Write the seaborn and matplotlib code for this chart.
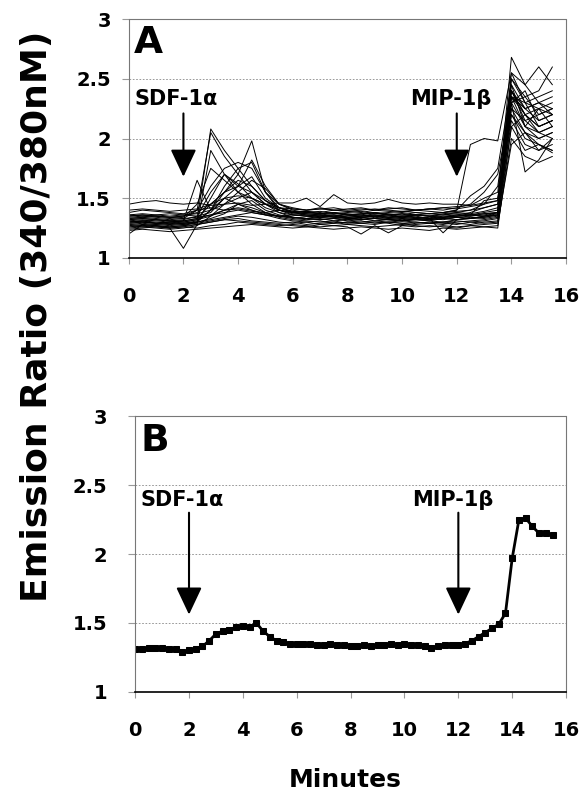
import numpy as np
import pandas as pd
import matplotlib
matplotlib.use("Agg")
import matplotlib.pyplot as plt
import seaborn as sns

# time axes (minutes)
t_cells = np.arange(0, 16, 0.5)      # single-cell traces, 0 .. 15.5
t_mean = np.arange(0, 15.75, 0.25)   # averaged trace, 0 .. 15.5

# panel A: individual cell traces (emission ratio 340/380)
cell_01 = [1.45,1.47,1.48,1.46,1.45,1.46,1.44,1.45,1.46,1.44,1.45,1.46,1.46,1.50,1.43,1.53,1.46,1.45,1.46,1.49,1.46,1.45,1.46,1.45,1.45,1.44,1.46,1.48,2.68,2.45,2.30,2.25]
cell_02 = [1.38,1.40,1.39,1.38,1.37,1.40,1.42,1.40,1.41,1.39,1.38,1.40,1.38,1.39,1.38,1.40,1.39,1.38,1.40,1.39,1.38,1.40,1.39,1.38,1.40,1.95,2.00,1.98,2.55,2.30,2.25,2.20]
cell_03 = [1.30,1.31,1.29,1.30,1.31,1.65,1.40,1.50,1.45,1.40,1.36,1.35,1.34,1.33,1.35,1.34,1.33,1.32,1.34,1.33,1.32,1.33,1.34,1.33,1.32,1.34,1.33,1.35,2.40,2.20,2.10,2.15]
cell_04 = [1.20,1.28,1.27,1.25,1.08,1.28,1.30,1.32,1.33,1.31,1.30,1.29,1.30,1.28,1.29,1.30,1.28,1.29,1.30,1.29,1.27,1.29,1.30,1.29,1.28,1.30,1.29,1.30,2.20,2.05,1.90,1.95]
cell_05 = [1.33,1.34,1.33,1.32,1.33,1.40,2.05,1.85,1.70,1.55,1.45,1.40,1.38,1.37,1.36,1.37,1.36,1.35,1.37,1.36,1.35,1.36,1.35,1.36,1.37,1.36,1.38,1.40,2.45,2.25,2.15,2.20]
cell_06 = [1.30,1.31,1.30,1.29,1.30,1.32,2.08,1.90,1.75,1.60,1.48,1.42,1.38,1.36,1.35,1.36,1.34,1.35,1.36,1.34,1.35,1.34,1.33,1.35,1.36,1.35,1.37,1.38,2.50,2.35,2.20,2.25]
cell_07 = [1.28,1.29,1.28,1.27,1.28,1.30,1.40,1.55,1.70,1.98,1.55,1.42,1.38,1.37,1.36,1.35,1.36,1.34,1.35,1.36,1.34,1.35,1.33,1.34,1.35,1.36,1.35,1.37,2.35,2.10,2.05,2.10]
cell_08 = [1.35,1.36,1.35,1.34,1.35,1.40,1.60,1.75,1.80,1.75,1.55,1.45,1.42,1.40,1.41,1.40,1.39,1.40,1.41,1.40,1.39,1.40,1.41,1.40,1.42,1.45,1.55,1.70,2.30,2.35,2.40,2.60]
cell_09 = [1.32,1.33,1.32,1.31,1.32,1.35,1.55,1.70,1.60,1.82,1.60,1.45,1.40,1.38,1.37,1.38,1.36,1.37,1.38,1.36,1.37,1.36,1.35,1.37,1.38,1.37,1.39,1.42,2.55,2.45,2.60,2.45]
cell_10 = [1.27,1.28,1.27,1.26,1.27,1.30,1.50,1.70,1.62,1.50,1.42,1.38,1.36,1.35,1.34,1.35,1.33,1.34,1.35,1.33,1.34,1.33,1.32,1.34,1.35,1.36,1.48,1.50,2.20,2.00,1.95,1.90]
cell_11 = [1.31,1.32,1.31,1.30,1.31,1.33,1.45,1.55,1.65,1.60,1.48,1.40,1.37,1.36,1.35,1.36,1.34,1.35,1.36,1.35,1.34,1.36,1.35,1.34,1.36,1.38,1.42,1.45,2.40,2.15,2.20,2.25]
cell_12 = [1.25,1.26,1.25,1.24,1.25,1.27,1.35,1.45,1.50,1.55,1.45,1.38,1.34,1.33,1.32,1.33,1.31,1.32,1.33,1.32,1.31,1.32,1.31,1.30,1.32,1.33,1.34,1.36,2.25,2.05,2.00,2.05]
cell_13 = [1.23,1.24,1.23,1.22,1.23,1.24,1.25,1.26,1.27,1.28,1.27,1.26,1.25,1.26,1.25,1.24,1.25,1.26,1.25,1.24,1.25,1.24,1.23,1.25,1.24,1.25,1.26,1.27,2.00,1.85,1.80,1.85]
cell_14 = [1.29,1.30,1.29,1.28,1.29,1.30,1.32,1.34,1.36,1.38,1.36,1.33,1.31,1.30,1.31,1.29,1.30,1.31,1.29,1.30,1.31,1.30,1.29,1.30,1.31,1.30,1.31,1.33,2.30,2.10,2.00,2.05]
cell_15 = [1.34,1.35,1.34,1.33,1.34,1.45,1.75,1.65,1.55,1.50,1.45,1.40,1.38,1.39,1.37,1.38,1.37,1.36,1.38,1.37,1.36,1.38,1.37,1.36,1.38,1.40,1.45,1.60,2.40,2.20,2.25,2.30]
cell_16 = [1.36,1.37,1.36,1.35,1.36,1.37,1.40,1.45,1.55,1.65,1.58,1.45,1.41,1.40,1.42,1.40,1.41,1.42,1.40,1.41,1.42,1.40,1.41,1.42,1.41,1.43,1.45,1.48,2.35,2.30,2.10,2.15]
cell_17 = [1.27,1.26,1.27,1.26,1.27,1.28,1.30,1.32,1.31,1.30,1.29,1.28,1.27,1.26,1.28,1.27,1.26,1.20,1.27,1.21,1.27,1.26,1.27,1.26,1.25,1.27,1.26,1.25,2.10,1.90,1.95,1.88]
cell_18 = [1.30,1.31,1.32,1.31,1.30,1.32,1.35,1.40,1.45,1.42,1.38,1.35,1.33,1.32,1.33,1.31,1.32,1.33,1.31,1.32,1.31,1.32,1.33,1.21,1.32,1.33,1.35,1.38,2.30,2.40,2.15,2.20]
cell_19 = [1.32,1.33,1.32,1.31,1.31,1.33,1.36,1.40,1.42,1.40,1.37,1.35,1.34,1.33,1.34,1.33,1.32,1.34,1.33,1.32,1.33,1.32,1.31,1.33,1.34,1.33,1.35,1.36,2.15,1.95,1.90,2.00]
cell_20 = [1.26,1.27,1.26,1.25,1.26,1.28,1.90,1.70,1.55,1.45,1.38,1.34,1.32,1.31,1.30,1.31,1.29,1.30,1.31,1.30,1.29,1.30,1.29,1.28,1.30,1.31,1.32,1.34,2.35,2.25,2.30,2.35]
cell_21 = [1.35,1.36,1.35,1.34,1.35,1.38,1.45,1.55,1.60,1.55,1.48,1.42,1.39,1.38,1.37,1.38,1.36,1.37,1.38,1.36,1.37,1.36,1.37,1.38,1.40,1.52,1.60,1.75,2.45,2.10,2.25,2.10]
cell_22 = [1.29,1.30,1.29,1.28,1.29,1.31,1.40,1.60,1.75,1.80,1.55,1.40,1.36,1.35,1.34,1.35,1.33,1.34,1.35,1.34,1.33,1.34,1.33,1.32,1.34,1.35,1.36,1.38,2.30,1.72,1.82,2.00]
cell_23 = [1.33,1.34,1.35,1.34,1.33,1.34,1.36,1.38,1.40,1.38,1.36,1.35,1.36,1.35,1.36,1.34,1.35,1.36,1.35,1.34,1.35,1.36,1.35,1.34,1.35,1.36,1.37,1.38,2.25,2.15,2.05,2.10]
cell_24 = [1.28,1.27,1.28,1.29,1.28,1.29,1.31,1.33,1.35,1.34,1.32,1.30,1.29,1.30,1.28,1.29,1.30,1.29,1.28,1.30,1.29,1.28,1.29,1.30,1.29,1.28,1.30,1.31,2.10,2.20,2.05,2.00]
cell_25 = [1.40,1.41,1.40,1.39,1.40,1.41,1.45,1.50,1.52,1.50,1.45,1.42,1.41,1.40,1.41,1.42,1.40,1.41,1.40,1.42,1.41,1.40,1.41,1.42,1.43,1.44,1.50,1.55,2.50,2.30,2.35,2.40]
cell_26 = [1.31,1.30,1.29,1.30,1.29,1.30,1.33,1.37,1.45,1.48,1.40,1.36,1.34,1.33,1.32,1.33,1.34,1.32,1.33,1.32,1.31,1.33,1.32,1.33,1.34,1.33,1.34,1.36,2.35,2.20,2.10,2.15]
cell_27 = [1.36,1.35,1.36,1.37,1.36,1.35,1.38,1.50,1.60,1.68,1.50,1.42,1.39,1.38,1.39,1.37,1.38,1.39,1.37,1.38,1.39,1.38,1.37,1.38,1.39,1.40,1.42,1.45,2.40,2.25,2.30,2.20]
cell_28 = [1.24,1.25,1.26,1.25,1.26,1.25,1.27,1.28,1.30,1.29,1.28,1.27,1.28,1.27,1.26,1.27,1.28,1.27,1.26,1.27,1.28,1.27,1.26,1.27,1.26,1.27,1.28,1.29,1.95,2.05,1.95,1.90]

cells = [cell_01, cell_02, cell_03, cell_04, cell_05, cell_06, cell_07, cell_08,
         cell_09, cell_10, cell_11, cell_12, cell_13, cell_14, cell_15, cell_16,
         cell_17, cell_18, cell_19, cell_20, cell_21, cell_22, cell_23, cell_24,
         cell_25, cell_26, cell_27, cell_28]

# panel B: averaged response
mean_ratio = [1.31,1.31,1.32,1.32,1.32,1.31,1.31,1.29,1.30,1.31,1.33,1.37,1.42,1.44,1.45,1.47,
              1.48,1.47,1.50,1.44,1.40,1.37,1.36,1.35,1.35,1.35,1.35,1.34,1.34,1.35,1.34,1.34,
              1.33,1.33,1.34,1.33,1.34,1.34,1.35,1.34,1.35,1.34,1.34,1.33,1.32,1.33,1.34,1.34,
              1.34,1.35,1.37,1.40,1.43,1.46,1.49,1.57,1.97,2.25,2.26,2.20,2.15,2.15,2.14]

# stimulus annotations
stimuli = ["SDF-1\u03b1", "MIP-1\u03b2"]
stim_times = [2, 12]

df_a = pd.DataFrame({
    "Minutes": np.tile(t_cells, len(cells)),
    "Ratio": np.concatenate(cells),
    "cell": np.repeat(np.arange(len(cells)), len(t_cells)),
})
df_b = pd.DataFrame({"Minutes": t_mean, "Ratio": mean_ratio})

sns.set_style("white")
plt.rcParams["font.family"] = ["DejaVu Sans"]
plt.rcParams["font.weight"] = "bold"
plt.rcParams["text.color"] = "black"
plt.rcParams["axes.labelcolor"] = "black"

fig = plt.figure(figsize=(5.8, 7.96), dpi=100)
axA = fig.add_axes([0.222, 0.676, 0.754, 0.300])
axB = fig.add_axes([0.233, 0.131, 0.743, 0.346])

sns.lineplot(data=df_a, x="Minutes", y="Ratio", units="cell", estimator=None,
             color="black", lw=0.7, ax=axA)
sns.lineplot(data=df_b, x="Minutes", y="Ratio", color="black", lw=2,
             marker="s", markersize=5, markeredgecolor="black", ax=axB)


def style(ax, pad_y):
    ax.set_xlim(0, 16)
    ax.set_ylim(1, 3)
    ax.set_xticks(range(0, 17, 2))
    ax.set_yticks([1, 1.5, 2, 2.5, 3])
    ax.set_yticklabels(["1", "1.5", "2", "2.5", "3"])
    ax.grid(axis="y", ls=(0, (2, 2)), color="#888888", lw=0.6)
    ax.grid(axis="x", visible=False)
    for s in ["top", "right", "left"]:
        ax.spines[s].set(color="#777777", ls=(0, (1, 1)), lw=0.8)
    ax.spines["bottom"].set(color="black", lw=1.2)
    ax.tick_params(axis="x", length=4, color="#999999", pad=17, labelsize=14,
                   labelcolor="black", bottom=True)
    ax.tick_params(axis="y", length=5, color="#999999", pad=pad_y, labelsize=14,
                   labelcolor="black", left=True)
    ax.set_xlabel("")
    ax.set_ylabel("")


style(axA, 8)
style(axB, 15)

for ax, letter, ys in [(axA, "A", (2.33, 2.21, 1.68)), (axB, "B", (2.39, 2.30, 1.56))]:
    ax.text(0.012, 0.975, letter, transform=ax.transAxes, fontsize=27,
            fontweight="bold", va="top", ha="left")
    for name, t in zip(stimuli, stim_times):
        if t < 5:
            ax.text(t - 1.8, ys[0], name, fontsize=15, fontweight="bold", va="center", ha="left")
        else:
            ax.text(t - 0.2, ys[0], name, fontsize=15, fontweight="bold", va="center", ha="center")
        ax.annotate("", xy=(t, ys[2]), xytext=(t, ys[1]),
                    arrowprops=dict(arrowstyle="-|>,head_length=0.85,head_width=0.4",
                                    mutation_scale=20, lw=1.5, color="black",
                                    shrinkA=0, shrinkB=0))

fig.text(0.064, 0.603, "Emission Ratio (340/380nM)", rotation=90, fontsize=26,
         fontweight="bold", ha="center", va="center")
fig.text(0.595, 0.020, "Minutes", fontsize=18, fontweight="bold", ha="center", va="center")

fig.savefig("out.png", dpi=100)
